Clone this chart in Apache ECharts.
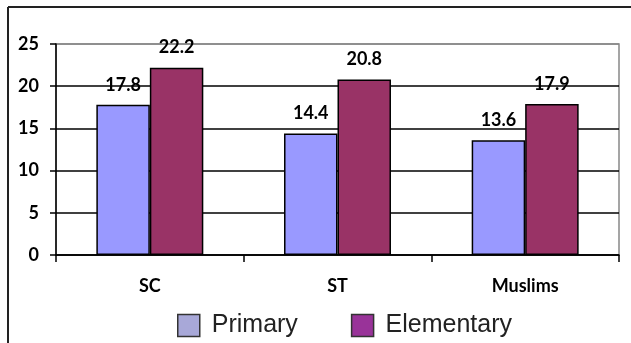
<!DOCTYPE html>
<html>
<head>
<meta charset="utf-8">
<script src="https://cdn.jsdelivr.net/npm/echarts@6/dist/echarts.min.js"></script>
<style>
  html, body { margin: 0; padding: 0; background: #fff; }
  #chart { width: 631px; height: 343px; }
</style>
</head>
<body>
<div id="chart"></div>
<script>
var categories = ["SC", "ST", "Muslims"];
var primary = [17.8, 14.4, 13.6];
var elementary = [22.2, 20.8, 17.9];
var yTicks = [0, 5, 10, 15, 20, 25];

var myChart = echarts.init(document.getElementById("chart"));

var labelStyle = {
  show: true,
  position: "top",
  distance: 11,
  color: "#000",
  fontFamily: "Lato",
  fontWeight: "bold",
  fontSize: 18
};

var option = {
  animation: false,
  backgroundColor: "#fff",
  // outer frame (only top and left edges visible)
  graphic: [
    { type: "line", shape: { x1: 8, y1: 7, x2: 631, y2: 7 }, style: { stroke: "#222", lineWidth: 2 } },
    { type: "line", shape: { x1: 8, y1: 7, x2: 8, y2: 343 }, style: { stroke: "#222", lineWidth: 2 } }
  ],
  grid: {
    left: 56, top: 44, right: 12, bottom: 88,
    show: true, borderColor: "#888", borderWidth: 1.5
  },
  legend: {
    left: 172, top: 308,
    icon: "rect",
    itemWidth: 22, itemHeight: 22, itemGap: 53,
    textStyle: { fontFamily: "Liberation Sans", fontSize: 25, color: "#222", padding: [0, 0, 0, 7] },
    data: [
      { name: "Primary", itemStyle: { color: "#a8a8d8", borderColor: "#333", borderWidth: 1.5 } },
      { name: "Elementary", itemStyle: { color: "#993399", borderColor: "#333", borderWidth: 1.5 } }
    ]
  },
  xAxis: {
    type: "category",
    data: categories,
    axisLine: { lineStyle: { color: "#000", width: 1.5 } },
    axisTick: { show: true, length: 7, lineStyle: { color: "#000", width: 1.5 } },
    axisLabel: { color: "#000", fontFamily: "Lato", fontWeight: "bold", fontSize: 18, margin: 22 }
  },
  yAxis: {
    type: "value",
    min: yTicks[0], max: yTicks[yTicks.length - 1], interval: 5,
    axisLine: { show: true, lineStyle: { color: "#000", width: 1.5 } },
    axisTick: { show: true, length: 6, lineStyle: { color: "#000", width: 1.5 } },
    axisLabel: { color: "#000", fontFamily: "Lato", fontWeight: "bold", fontSize: 18, margin: 17 },
    splitLine: { lineStyle: { color: ["#000", "#000", "#000", "#000", "#000", "#888"], width: 1.5 } }
  },
  series: [
    {
      name: "Primary", type: "bar", data: primary,
      barGap: "0%", barCategoryGap: "43%",
      itemStyle: { color: "#9999ff", borderColor: "#000", borderWidth: 1.5 },
      label: labelStyle
    },
    {
      name: "Elementary", type: "bar", data: elementary,
      itemStyle: { color: "#993366", borderColor: "#000", borderWidth: 1.5 },
      label: labelStyle
    }
  ]
};

myChart.setOption(option);
</script>
</body>
</html>
